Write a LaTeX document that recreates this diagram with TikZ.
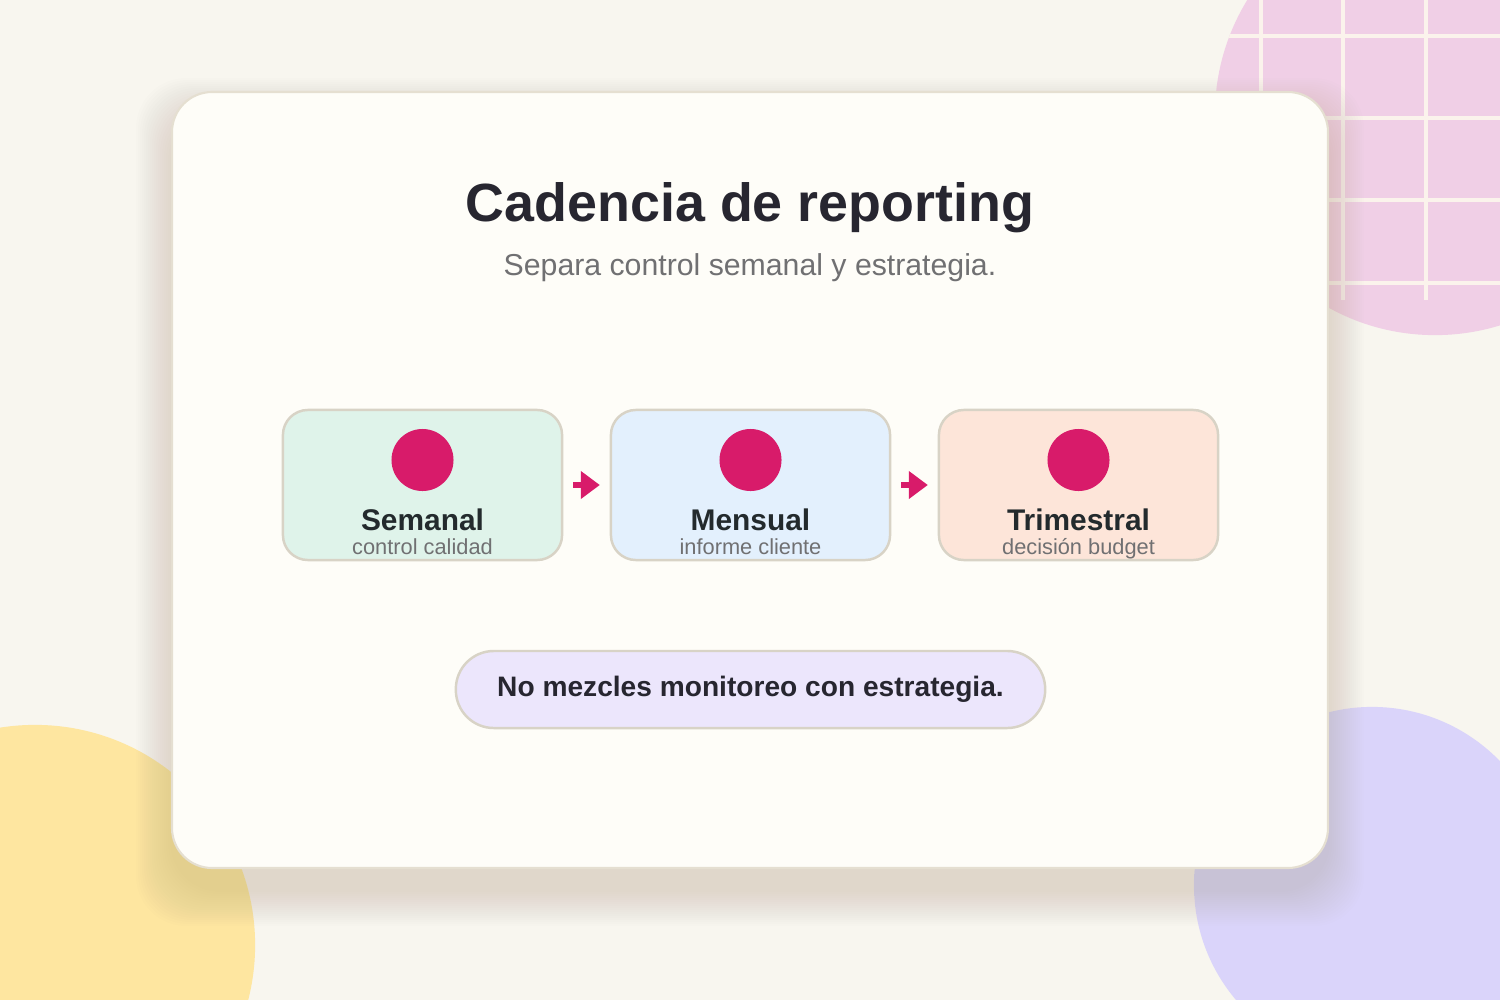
\documentclass[tikz,border=0pt]{standalone}
\usepackage{fontspec}
\setmainfont{Liberation Sans}
\usetikzlibrary{arrows.meta}

\definecolor{paper}{HTML}{F8F6EF}
\definecolor{cardfill}{HTML}{FEFDF8}
\definecolor{cardline}{HTML}{E5DFD1}
\definecolor{cardshade}{HTML}{6E5E3A}
\definecolor{pinkblob}{HTML}{F0CFE6}
\definecolor{gridline}{HTML}{FBF3EC}
\definecolor{sunblob}{HTML}{FEE6A0}
\definecolor{lilacblob}{HTML}{DAD4FA}
\definecolor{stageline}{HTML}{D8D3C6}
\definecolor{mint}{HTML}{DFF3EA}
\definecolor{sky}{HTML}{E3F0FD}
\definecolor{peach}{HTML}{FDE5D9}
\definecolor{lilac}{HTML}{ECE6FC}
\definecolor{accent}{HTML}{D81B6A}
\definecolor{ink}{HTML}{272630}
\definecolor{muted}{HTML}{707072}
\definecolor{stageink}{HTML}{232A2D}

\begin{document}
\begin{tikzpicture}[x=0.01cm, y=-0.01cm,
    stage/.style={draw=stageline, line width=0.7pt, rounded corners=0.25cm,
        minimum width=2.79cm, minimum height=1.5cm, inner sep=0pt},
    dot/.style={circle, fill=accent, minimum size=0.62cm, inner sep=0pt},
    stagename/.style={anchor=base, text=stageink, font=\fontsize{8.5}{10}\selectfont\bfseries},
    stagenote/.style={anchor=base, text=muted, font=\fontsize{6.2}{7}\selectfont},
    flow/.style={-{Triangle[length=5.4pt, width=7.6pt]}, accent, line width=1.7pt,
        shorten <=2.8pt, shorten >=2.8pt}]

    % Page and background blobs
    \useasboundingbox (0,0) rectangle (1500,1000);
    \clip (0,0) rectangle (1500,1000);
    \fill[paper] (0,0) rectangle (1500,1000);
    \fill[pinkblob] (1435,115) circle [radius=2.2cm];
    \begin{scope}
        \clip (1435,115) circle [radius=2.2cm];
        \foreach \gx in {1261,1343,1426}
            \draw[gridline, line width=1.1pt] (\gx,-10) -- (\gx,300);
        \foreach \gy in {36,118,200,283}
            \draw[gridline, line width=1.1pt] (1180,\gy) -- (1510,\gy);
    \end{scope}
    \fill[sunblob] (35,945) circle [radius=2.2cm];
    \fill[lilacblob] (1372,885) circle [radius=1.78cm];

    % Soft shadow under the card
    \foreach \s in {2,4,...,36}
        \fill[cardshade, opacity=0.009, rounded corners=0.5cm]
            (172-\s,114-\s) rectangle (1328+\s,890+\s);

    % The card
    \draw[cardline, line width=0.6pt, fill=cardfill, rounded corners=0.4cm]
        (172,92) rectangle (1328,868);

    \node[anchor=base, text=ink, font=\fontsize{15.3}{18}\selectfont\bfseries] (title)
        at (750,221) {Cadencia de reporting};
    \node[anchor=base, text=muted, font=\fontsize{8.6}{10}\selectfont] (subtitle)
        at (750,275) {Separa control semanal y estrategia.};

    % The three stages
    \node[stage, fill=mint] (weekly) at (422.5,485) {};
    \node[stage, fill=sky] (monthly) at (750.5,485) {};
    \node[stage, fill=peach] (quarterly) at (1078.5,485) {};

    \node[dot] (weeklydot) at (422.5,460) {};
    \node[dot] (monthlydot) at (750.5,460) {};
    \node[dot] (quarterlydot) at (1078.5,460) {};

    \node[stagename] (weeklyname) at (422.5,530) {Semanal};
    \node[stagenote] (weeklynote) at (422.5,554) {control calidad};
    \node[stagename] (monthlyname) at (750.5,530) {Mensual};
    \node[stagenote] (monthlynote) at (750.5,554) {informe cliente};
    \node[stagename] (quarterlyname) at (1078.5,530) {Trimestral};
    \node[stagenote] (quarterlynote) at (1078.5,554) {decisión budget};

    \draw[flow] (weekly) -- (monthly);
    \draw[flow] (monthly) -- (quarterly);

    % Closing rule
    \node[draw=stageline, line width=0.7pt, fill=lilac, rounded corners=0.38cm,
        minimum width=5.89cm, minimum height=0.77cm, inner sep=0pt, text=ink,
        font=\fontsize{8}{10}\selectfont\bfseries] (rule)
        at (750.5,689.5) {No mezcles monitoreo con estrategia.};

\end{tikzpicture}
\end{document}
